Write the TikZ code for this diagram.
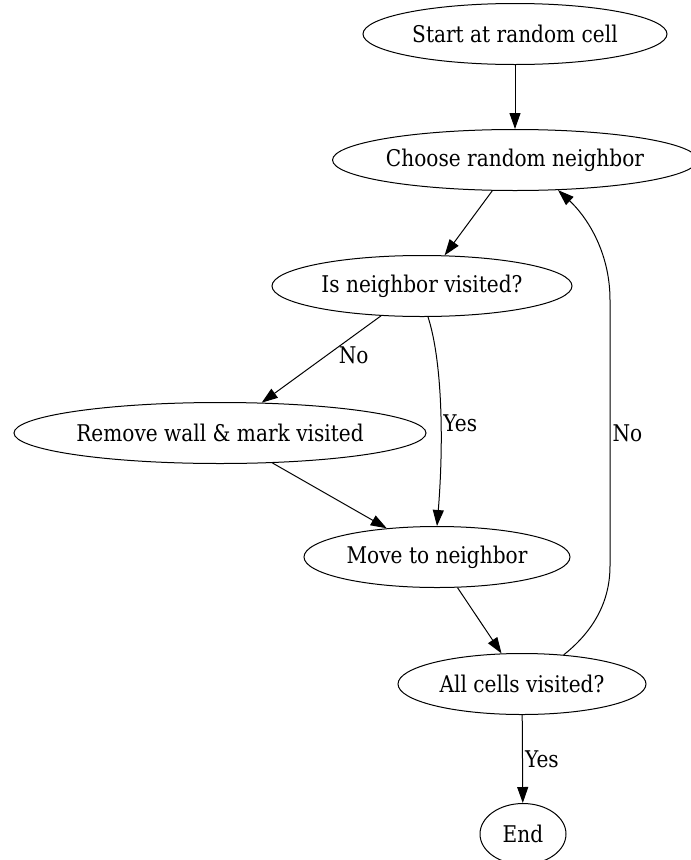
\documentclass[tikz,border=0pt]{standalone}
\usepackage{fontspec}
\setmainfont[FakeStretch=0.875]{DejaVu Serif}
\usetikzlibrary{shapes.geometric,arrows.meta}

\begin{document}
\begin{tikzpicture}[x=1pt,y=-1pt,line width=1pt,
  state/.style={draw,ellipse,inner sep=0pt,minimum height=61pt,font=\fontsize{23}{27}\selectfont},
  lbl/.style={font=\fontsize{23}{27}\selectfont,inner sep=2pt},
  >={Triangle[length=16pt,width=11pt]}]
\useasboundingbox (0,0) rectangle (691,860);
\node[state,minimum width=304pt] (start) at (515,34) {Start at random cell};
\node[state,minimum width=360pt] (choose) at (515,160) {Choose random neighbor};
\node[state,minimum width=300pt] (isvis) at (422,286) {Is neighbor visited?};
\node[state,minimum width=412pt] (remove) at (220,433) {Remove wall \& mark visited};
\node[state,minimum width=266pt] (move) at (437,557) {Move to neighbor};
\node[state,minimum width=248pt] (allvis) at (522,684) {All cells visited?};
\node[state,minimum width=86pt] (end) at (523,834) {End};
\draw[->] (start) -- (choose);
\draw[->] (choose) -- (isvis);
\draw[->] (isvis) -- node[lbl,pos=.45,right=9pt] {No} (remove);
\draw[->] (isvis.-79) .. controls (442,360) and (444,440) .. node[lbl,pos=.58,right] {Yes} (move.90);
\draw[->] (remove) -- (move);
\draw[->] (move) -- (allvis);
\draw[->] (allvis.35) .. controls (595,630) and (610,600) .. (610,566)
  -- node[lbl,right] {No} (610,300) .. controls (610,250) and (585,215) .. (choose.-35);
\draw[->] (allvis) -- node[lbl,right] {Yes} (end);
\end{tikzpicture}
\end{document}
